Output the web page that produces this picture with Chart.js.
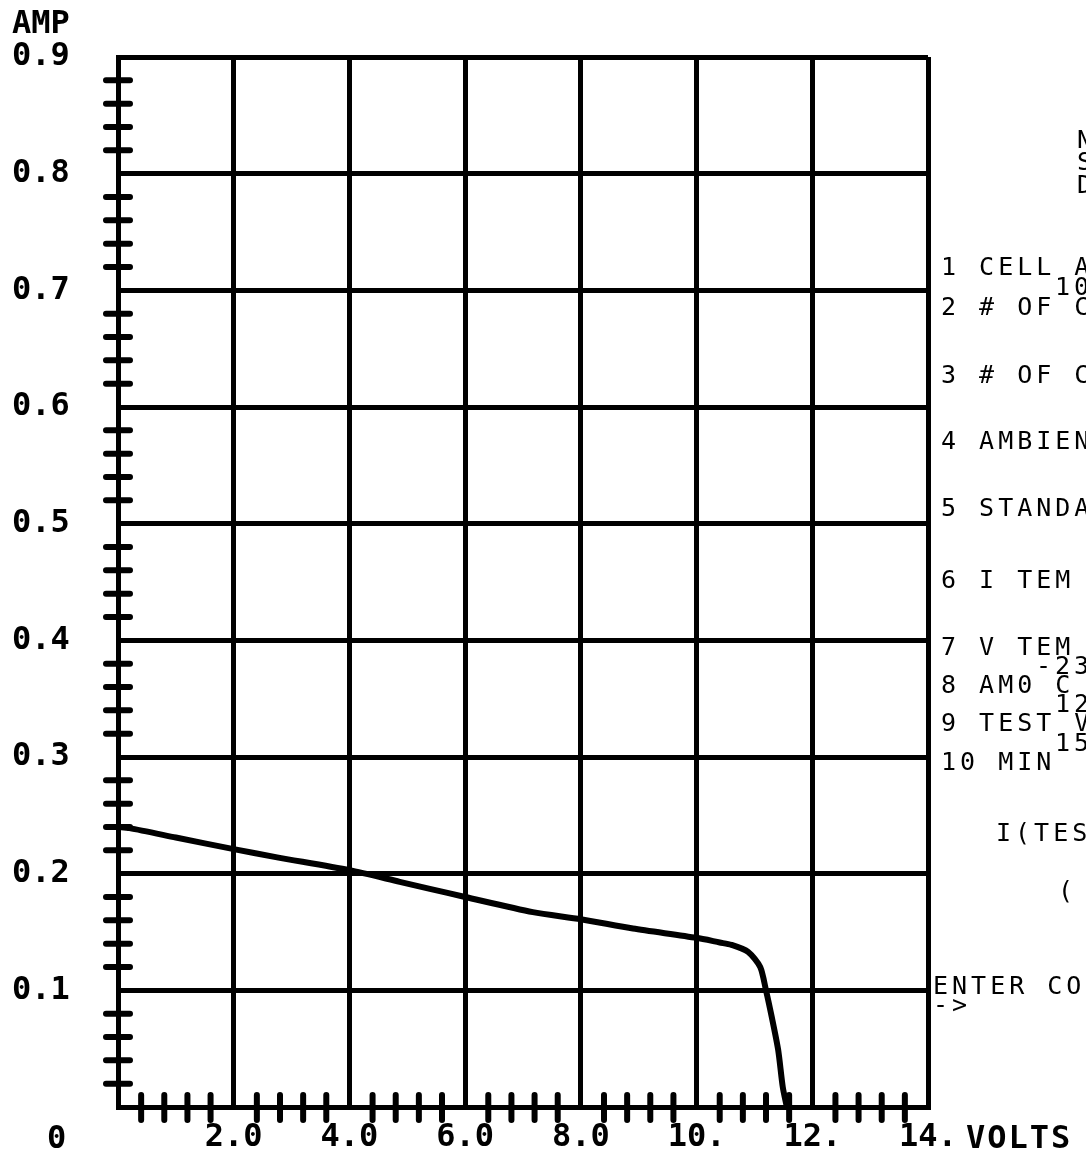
<!DOCTYPE html>
<html>
<head>
<meta charset="utf-8">
<script src="https://cdn.jsdelivr.net/npm/chart.js@4.4.0/dist/chart.umd.min.js"></script>
<style>
    html, body {
        margin: 0;
        padding: 0;
        width: 1086px;
        height: 1161px;
        overflow: hidden;
        background: #fff;
    }
    #wrap {
        position: relative;
        width: 1086px;
        height: 1161px;
        overflow: hidden;
    }
    #chart {
        position: absolute;
        left: 0;
        top: 0;
    }
    .lbl {
        position: absolute;
        font-family: 'DejaVu Sans Mono', monospace;
        font-weight: bold;
        font-size: 32px;
        line-height: 32px;
        white-space: nowrap;
        transform: translateY(-50%);
        color: #000;
    }
    .panel {
        position: absolute;
        font-family: 'DejaVu Sans Mono', monospace;
        font-size: 25px;
        line-height: 25px;
        letter-spacing: 4px;
        white-space: nowrap;
        transform: translateY(-50%);
        color: #000;
    }
</style>
</head>
<body>
<div id="wrap">
    <canvas id="chart" width="1086" height="1161"></canvas>

    <div class="lbl" style="left:12px; top:22px;">AMP</div>
    <div class="lbl" style="left:47px; top:1137px;">0</div>
    <div class="lbl" style="left:966px; top:1137px; letter-spacing:2px;">VOLTS</div>

    <!-- right side menu text, cut off by the page edge -->
    <div class="panel" style="left:1077px; top:139px;">N</div>
    <div class="panel" style="left:1077px; top:161px;">S</div>
    <div class="panel" style="left:1077px; top:184px;">D</div>
    <div class="panel" style="left:941px; top:266px;">1 CELL A</div>
    <div class="panel" style="left:1055px; top:286px;">10</div>
    <div class="panel" style="left:941px; top:306px;">2 # OF C</div>
    <div class="panel" style="left:941px; top:374px;">3 # OF C</div>
    <div class="panel" style="left:941px; top:440px;">4 AMBIEN</div>
    <div class="panel" style="left:941px; top:507px;">5 STANDA</div>
    <div class="panel" style="left:941px; top:579px;">6 I TEM</div>
    <div class="panel" style="left:941px; top:646px;">7 V TEM</div>
    <div class="panel" style="left:1036px; top:665px;">-23</div>
    <div class="panel" style="left:941px; top:684px;">8 AM0 C</div>
    <div class="panel" style="left:1055px; top:703px;">12</div>
    <div class="panel" style="left:941px; top:722px;">9 TEST V</div>
    <div class="panel" style="left:1055px; top:742px;">15</div>
    <div class="panel" style="left:941px; top:761px;">10 MIN</div>
    <div class="panel" style="left:996px; top:832px;">I(TES</div>
    <div class="panel" style="left:1058px; top:890px;">(</div>
    <div class="panel" style="left:933px; top:985px;">ENTER CO</div>
    <div class="panel" style="left:933px; top:1004px;">-&gt;</div>
</div>

<script>
// I-V curve (volts, amps)
const voltage = [0, 0.2, 1.0, 2.0, 2.75, 4.0, 4.87, 5.39, 6.0, 7.17, 8.0, 8.9, 10.0, 10.4, 10.6, 10.89, 11.1, 11.2, 11.3, 11.41, 11.49, 11.56];
const current = [0.240, 0.239, 0.231, 0.221, 0.214, 0.203, 0.193, 0.187, 0.180, 0.167, 0.161, 0.153, 0.145, 0.141, 0.139, 0.133, 0.120, 0.100, 0.077, 0.049, 0.017, 0];

// tick labels (index = tick number)
const xTickLabels = ['', '2.0', '4.0', '6.0', '8.0', '10.', '12.', '14.'];
const yTickLabels = ['', '0.1', '0.2', '0.3', '0.4', '0.5', '0.6', '0.7', '0.8', '0.9'];

// minor tick marks between the grid lines
const xMinor = [0.4, 0.8, 1.2, 1.6, 2.4, 2.8, 3.2, 3.6, 4.4, 4.8, 5.2, 5.6, 6.4, 6.8, 7.2, 7.6,
    8.4, 8.8, 9.2, 9.6, 10.4, 10.8, 11.2, 11.6, 12.4, 12.8, 13.2, 13.6];
const yMinor = [0.02, 0.04, 0.06, 0.08, 0.12, 0.14, 0.16, 0.18, 0.22, 0.24, 0.26, 0.28,
    0.32, 0.34, 0.36, 0.38, 0.42, 0.44, 0.46, 0.48, 0.52, 0.54, 0.56, 0.58,
    0.62, 0.64, 0.66, 0.68, 0.72, 0.74, 0.76, 0.78, 0.82, 0.84, 0.86, 0.88];

const tickFont = { family: 'DejaVu Sans Mono', size: 32, weight: 'bold' };

// draws the small cross ticks on both axes
const minorTicks = {
    id: 'minorTicks',
    afterDraw(chart) {
        const ctx = chart.ctx;
        const xs = chart.scales.x;
        const ys = chart.scales.y;
        const area = chart.chartArea;
        ctx.save();
        ctx.strokeStyle = '#000';
        ctx.lineWidth = 6;
        ctx.lineCap = 'round';
        ctx.beginPath();
        yMinor.forEach(v => {
            const py = ys.getPixelForValue(v);
            ctx.moveTo(area.left - 12, py);
            ctx.lineTo(area.left + 12, py);
        });
        xMinor.forEach(v => {
            const px = xs.getPixelForValue(v);
            ctx.moveTo(px, area.bottom - 12);
            ctx.lineTo(px, area.bottom + 13);
        });
        ctx.stroke();
        ctx.restore();
    }
};

document.addEventListener('DOMContentLoaded', function() {
    const ctx = document.getElementById('chart').getContext('2d');
    new Chart(ctx, {
        type: 'line',
        data: {
            datasets: [{
                data: voltage.map((v, i) => ({ x: v, y: current[i] })),
                borderColor: '#000',
                borderWidth: 6,
                pointRadius: 0,
                tension: 0.25,
                fill: false
            }]
        },
        options: {
            responsive: false,
            animation: false,
            layout: {
                padding: { left: 12, top: 57, right: 158, bottom: 0 }
            },
            plugins: {
                legend: { display: false },
                tooltip: { enabled: false }
            },
            scales: {
                x: {
                    type: 'linear',
                    min: 0,
                    max: 14,
                    afterFit(scale) { scale.height = 54; },
                    ticks: {
                        stepSize: 2,
                        color: '#000',
                        font: tickFont,
                        padding: 11,
                        maxRotation: 0,
                        callback: (value, index) => xTickLabels[index]
                    },
                    grid: { color: '#000', lineWidth: 5, drawTicks: false },
                    border: { color: '#000', width: 5 }
                },
                y: {
                    min: 0,
                    max: 0.9,
                    afterFit(scale) { scale.width = 106; },
                    ticks: {
                        stepSize: 0.1,
                        color: '#000',
                        font: tickFont,
                        crossAlign: 'far',
                        padding: 0,
                        callback: (value, index) => yTickLabels[index]
                    },
                    grid: { color: '#000', lineWidth: 5, drawTicks: false },
                    border: { color: '#000', width: 5 }
                }
            }
        },
        plugins: [minorTicks]
    });
});
</script>
</body>
</html>
